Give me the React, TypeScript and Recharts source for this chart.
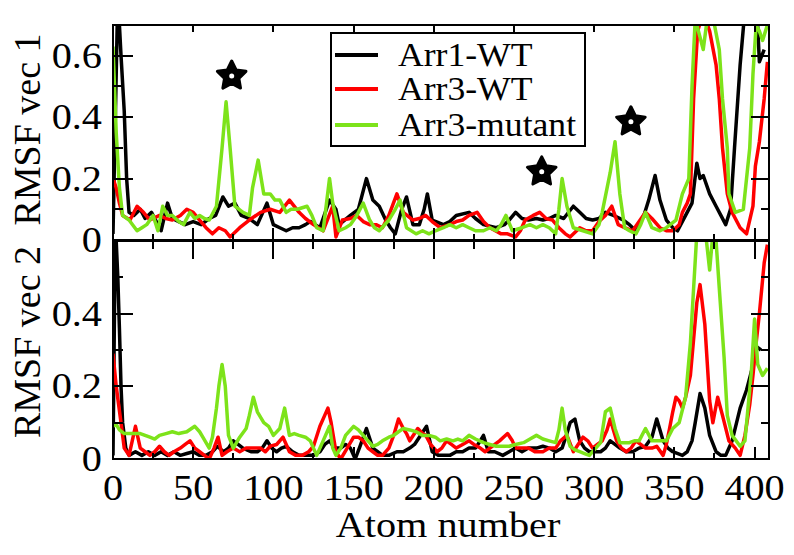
import { LineChart, Line, XAxis, YAxis, Legend, ReferenceDot, Label } from "recharts";

type Pt = [number, number];

// [atom, rmsf] pairs
const arr1Vec1: Pt[] = [
  [0, 0.02], [3, 0.8], [5, 0.6], [7, 0.42], [8.5, 0.2], [10, 0.09], [13, 0.08], [17, 0.1], [20, 0.07],
  [24, 0.09], [28, 0.05], [30, 0.03], [34, 0.12], [37, 0.07], [41, 0.06], [45, 0.05], [50, 0.06], [55, 0.05],
  [60, 0.07], [64, 0.08], [68.5, 0.14], [72, 0.11], [76, 0.12], [80, 0.08], [85, 0.07], [90, 0.05], [96, 0.12],
  [100, 0.05], [104, 0.04], [108, 0.03], [112, 0.04], [116, 0.04], [120, 0.05], [123, 0.06], [129, 0.04],
  [135, 0.13], [139, 0.1], [141, 0.05], [148, 0.08], [153, 0.1], [158, 0.2], [162, 0.13], [166, 0.11],
  [170, 0.065], [173, 0.04], [176, 0.02], [180, 0.1], [183, 0.14], [187, 0.05], [191, 0.05], [194, 0.1],
  [196, 0.15], [199, 0.065], [206, 0.05], [210, 0.06], [214, 0.08], [222, 0.09], [226, 0.07], [231, 0.05],
  [239, 0.04], [244, 0.05], [247, 0.065], [251, 0.09], [255, 0.07], [259, 0.065], [264, 0.07], [268, 0.065],
  [272, 0.07], [276, 0.08], [281, 0.07], [287, 0.11], [291, 0.09], [295, 0.07], [299, 0.065], [303, 0.07],
  [307, 0.09], [312, 0.08], [318, 0.065], [322, 0.05], [326, 0.03], [331, 0.08], [334, 0.13], [338, 0.21],
  [341, 0.13], [345, 0.065], [349, 0.04], [352, 0.03], [357, 0.08], [361, 0.12], [364, 0.25], [366, 0.2],
  [368, 0.21], [372, 0.15], [376, 0.11], [379, 0.08], [382, 0.05], [385, 0.1], [387.5, 0.3], [391, 0.57],
  [394, 0.75], [398, 0.9], [401, 0.8], [403, 0.58], [406, 0.62],
];

const arr3Vec1: Pt[] = [
  [0, 0.2], [2, 0.17], [4, 0.12], [6, 0.08], [10.6, 0.065], [15, 0.11], [19, 0.09], [23, 0.065], [29, 0.08],
  [33, 0.07], [37, 0.065], [42, 0.08], [46, 0.1], [50, 0.09], [54, 0.065], [58, 0.04], [62, 0.02], [66, 0.04],
  [70, 0.03], [73, 0.01], [79, 0.04], [85, 0.065], [92, 0.09], [98, 0.1], [104, 0.09], [110, 0.13], [116, 0.09],
  [120, 0.07], [125, 0.05], [131, 0.03], [137, 0.11], [139, 0.01], [143, 0.065], [148, 0.07], [152, 0.08],
  [156, 0.06], [160, 0.05], [164, 0.05], [168, 0.04], [172, 0.08], [177, 0.15], [181, 0.09], [187, 0.065],
  [191, 0.07], [195, 0.08], [199, 0.06], [204, 0.04], [210, 0.05], [214, 0.06], [218, 0.065], [222, 0.08],
  [227, 0.09], [231, 0.06], [235, 0.04], [242, 0.02], [246, 0.02], [251, 0.01], [254, 0.03], [257, 0.065],
  [262, 0.08], [266, 0.09], [270, 0.07], [274, 0.065], [278, 0.04], [282, 0.02], [285, 0.01], [291, 0.04],
  [295, 0.03], [299, 0.03], [303, 0.06], [307, 0.08], [311, 0.11], [315, 0.05], [319, 0.04], [324, 0.03],
  [328, 0.06], [332, 0.09], [336, 0.07], [341, 0.04], [345, 0.03], [349, 0.03], [353, 0.05], [355, 0.09],
  [358, 0.12], [360, 0.15], [362, 0.46], [364.5, 0.68], [368, 0.74], [372, 0.68], [376, 0.57], [378, 0.46],
  [380, 0.3], [383, 0.15], [386, 0.09], [391, 0.04], [395, 0.02], [399, 0.11], [400.5, 0.24], [403, 0.32],
  [406, 0.46], [408, 0.58],
];

const mutantVec1: Pt[] = [
  [0, 0.63], [2, 0.35], [4, 0.17], [6, 0.08], [10, 0.065], [15, 0.03], [18, 0.04], [21, 0.05], [25, 0.08],
  [28, 0.03], [31, 0.11], [34, 0.08], [37, 0.08], [41, 0.06], [44, 0.05], [48, 0.09], [51, 0.07], [54, 0.08],
  [57, 0.07], [60, 0.065], [64.5, 0.11], [68, 0.3], [70.5, 0.45], [73, 0.3], [76, 0.11], [81, 0.09], [85, 0.08],
  [87, 0.17], [90.5, 0.26], [94, 0.15], [98, 0.15], [101, 0.13], [104, 0.13], [108, 0.09], [111, 0.1],
  [115, 0.1], [121, 0.11], [124, 0.08], [127, 0.04], [131, 0.03], [135, 0.2], [137, 0.12], [141, 0.03],
  [145, 0.04], [148, 0.05], [152, 0.08], [156, 0.12], [160, 0.065], [163, 0.04], [166, 0.03], [172, 0.065],
  [176, 0.1], [179, 0.13], [183, 0.04], [189, 0.02], [193, 0.03], [197, 0.02], [201, 0.03], [206, 0.04],
  [210, 0.05], [214, 0.04], [218, 0.05], [222, 0.04], [226, 0.03], [231, 0.03], [235, 0.04], [239, 0.03],
  [242, 0.05], [245, 0.08], [249, 0.03], [255, 0.04], [260, 0.05], [264, 0.04], [268, 0.05], [272, 0.04],
  [276, 0.02], [278, 0.1], [280, 0.2], [283, 0.11], [287, 0.04], [293, 0.03], [299, 0.02], [303, 0.05],
  [305, 0.09], [310, 0.22], [313, 0.32], [316, 0.15], [319, 0.04], [322, 0.03], [326, 0.02], [329, 0.05],
  [332, 0.09], [336, 0.04], [341, 0.03], [345, 0.04], [351, 0.065], [355, 0.15], [359, 0.2], [361, 0.5],
  [363, 0.72], [366, 0.66], [368, 0.62], [370, 0.7], [372, 0.72], [375, 0.7], [378, 0.62], [380, 0.46],
  [383, 0.3], [384, 0.15], [388, 0.09], [393, 0.1], [397, 0.3], [399, 0.54], [401, 0.7], [403, 0.68],
  [405, 0.65], [408, 0.7],
];

const arr1Vec2: Pt[] = [
  [0, 0.01], [1.5, 0.65], [3, 0.5], [4, 0.36], [5, 0.2], [6, 0.1], [8, 0.03], [10, 0.01], [14, 0.02],
  [18, 0.01], [22, 0.02], [26, 0.01], [30, 0.02], [34, 0.01], [38, 0.02], [42, 0.01], [46, 0.015], [50, 0.02],
  [54, 0.01], [58, 0.01], [62, 0.02], [65, 0.035], [69, 0.02], [72, 0.03], [75, 0.05], [78, 0.04], [81, 0.03],
  [86, 0.02], [90, 0.02], [93, 0.03], [96, 0.05], [99, 0.03], [102, 0.02], [105, 0.03], [108, 0.035],
  [112, 0.02], [116, 0.01], [120, 0.01], [125, 0.01], [129, 0.02], [132, 0.04], [135, 0.05], [138, 0.03],
  [142, 0.03], [145, 0.04], [148, 0.03], [151, 0], [154, 0.035], [158, 0.084], [162, 0.03], [165, 0.02],
  [168, 0.01], [172, 0.01], [177, 0.02], [181, 0.02], [185, 0.03], [188, 0.04], [191, 0.06], [195.5, 0.09],
  [199, 0.02], [203, 0.01], [206, 0.01], [210, 0.01], [214, 0.02], [218, 0.02], [222, 0.03], [226, 0.03],
  [229, 0.05], [231, 0.065], [234, 0.02], [238, 0.02], [243, 0.01], [247, 0.02], [251, 0.03], [255, 0.02],
  [259, 0.03], [264, 0.03], [268, 0.035], [272, 0.03], [276, 0.02], [280, 0.03], [283, 0.07], [285, 0.1],
  [288, 0.11], [291, 0.05], [294, 0.03], [297, 0.02], [304, 0.02], [307, 0.03], [310, 0.05], [313, 0.04],
  [316, 0.03], [320, 0.02], [324, 0.02], [328, 0.03], [332, 0.035], [336, 0.06], [339, 0.11], [343, 0.05],
  [346, 0.03], [349, 0.02], [355, 0.01], [358, 0.02], [361, 0.05], [363, 0.1], [366, 0.18], [369, 0.14],
  [372, 0.065], [376, 0.02], [379, 0.01], [382, 0.01], [386, 0.05], [391, 0.14], [395, 0.19], [398, 0.24],
  [401, 0.31], [404, 0.3],
];

const arr3Vec2: Pt[] = [
  [0, 0.29], [2, 0.2], [5, 0.1], [7, 0.03], [10, 0.01], [12, 0.05], [14, 0.09], [17, 0.03], [20, 0.02],
  [23, 0.01], [26, 0.02], [29, 0.035], [32, 0.02], [35, 0.01], [38, 0.02], [42, 0.03], [45, 0.04], [48, 0.05],
  [51, 0.03], [54, 0.02], [57, 0.01], [60, 0], [63, 0.03], [65.5, 0.06], [68, 0.01], [71, 0.02], [75, 0.03],
  [79, 0.02], [83, 0.03], [88, 0.03], [92, 0.03], [95, 0.02], [98, 0.035], [102, 0.04], [106, 0.06],
  [110, 0.02], [114, 0.01], [118, 0.01], [122, 0.02], [125, 0.035], [129, 0.09], [132, 0.12], [134, 0.14],
  [136, 0.1], [139, 0.02], [142, 0], [146, 0.03], [150, 0.06], [153, 0.06], [156, 0.05], [159, 0.03],
  [162, 0.02], [165, 0.01], [168, 0.01], [172, 0.03], [175, 0.065], [178, 0.11], [181, 0.084], [183, 0.07],
  [185, 0.05], [188, 0.07], [190, 0.084], [193, 0.07], [195, 0.065], [198, 0.04], [202, 0.02], [205, 0.03],
  [208, 0.05], [211, 0.04], [214, 0.03], [218, 0.04], [222, 0.05], [225, 0.04], [229, 0.03], [232, 0.02],
  [235, 0.03], [238, 0.04], [241, 0.05], [246, 0.07], [249, 0.05], [251, 0.03], [255, 0.03], [259, 0.03],
  [263, 0.02], [268, 0.02], [272, 0.03], [276, 0.03], [279, 0.05], [283, 0.065], [287, 0.02], [290, 0.04],
  [293, 0.06], [296, 0.05], [299, 0.03], [302, 0.04], [305, 0.05], [308, 0.08], [310, 0.11], [312, 0.08],
  [314, 0.05], [317, 0.03], [320, 0.02], [323, 0.03], [326, 0.05], [329, 0.04], [332, 0.03], [336, 0.03],
  [339, 0.035], [343, 0.01], [345, 0.04], [347, 0.084], [349, 0.13], [351, 0.17], [353, 0.16], [355, 0.14],
  [357, 0.17], [360, 0.23], [362, 0.33], [364, 0.43], [366, 0.48], [369, 0.37], [372, 0.16], [374, 0.1],
  [377, 0.17], [380, 0.12], [384, 0.05], [388, 0.03], [391, 0.01], [394, 0.065], [397, 0.15], [399, 0.23],
  [401, 0.32], [403, 0.4], [406, 0.54], [408, 0.59],
];

const mutantVec2: Pt[] = [
  [0, 0.09], [2, 0.095], [4, 0.08], [7, 0.07], [10, 0.07], [13, 0.07], [17, 0.07], [20, 0.065], [23, 0.06],
  [26, 0.055], [29, 0.065], [33, 0.07], [37, 0.075], [41, 0.07], [46, 0.075], [51, 0.09], [54, 0.075],
  [56, 0.06], [60, 0.03], [62, 0.06], [64.5, 0.14], [66, 0.2], [68, 0.26], [70, 0.2], [72, 0.065], [75, 0.03],
  [79, 0.06], [83, 0.084], [85, 0.12], [87.5, 0.17], [90, 0.13], [94, 0.1], [97, 0.09], [100, 0.065],
  [104, 0.084], [107, 0.14], [110, 0.065], [113, 0.07], [116, 0.065], [120, 0.06], [123, 0.05], [127, 0.01],
  [131, 0.05], [135, 0.09], [137, 0.03], [139, 0.01], [142, 0.03], [145, 0.065], [150, 0.09], [153, 0.08],
  [156, 0.065], [159, 0.05], [162, 0.035], [165, 0.04], [168, 0.05], [172, 0.06], [175, 0.065], [178, 0.075],
  [181, 0.084], [185, 0.08], [189, 0.075], [193, 0.065], [197, 0.065], [201, 0.06], [204, 0.05], [208, 0.055],
  [212, 0.05], [215, 0.055], [218, 0.05], [222, 0.065], [226, 0.055], [231, 0.045], [235, 0.04], [239, 0.035],
  [243, 0.035], [247, 0.035], [251, 0.04], [256, 0.045], [260, 0.055], [264, 0.065], [268, 0.055], [272, 0.05],
  [276, 0.045], [278, 0.08], [280, 0.14], [282, 0.08], [285, 0.035], [288, 0.025], [291, 0.02], [294, 0.015],
  [297, 0.01], [301, 0.03], [304, 0.045], [307, 0.13], [310, 0.14], [313, 0.084], [316, 0.045], [319, 0.045],
  [322, 0.045], [325, 0.05], [328, 0.05], [332, 0.084], [336, 0.05], [340, 0.05], [345, 0.05], [349, 0.084],
  [353, 0.1], [357, 0.17], [360, 0.32], [362, 0.47], [364, 0.62], [367, 0.62], [370, 0.6], [372, 0.52],
  [374, 0.62], [376, 0.6], [378, 0.47], [381, 0.28], [383, 0.12], [386, 0.065], [391, 0.035], [394, 0.05],
  [398, 0.24], [400, 0.385], [402, 0.26], [405, 0.23], [408, 0.25],
];

const seriesNames = ["Arr1-WT", "Arr3-WT", "Arr3-mutant"];
const atomTicks = [0, 25, 50, 75, 100, 125, 150, 175, 200, 225, 250, 275, 300, 325, 350, 375, 400];
const atomLabels = [0, 50, 100, 150, 200, 250, 300, 350, 400];
const vec1Ticks = [0, 0.1, 0.2, 0.3, 0.4, 0.5, 0.6, 0.7];
const vec1Labels = [0, 0.2, 0.4, 0.6];
const vec2Ticks = [0, 0.1, 0.2, 0.3, 0.4, 0.5, 0.6];
const vec2Labels = [0, 0.2, 0.4];
// stars marking mutated sites (atom, rmsf)
const starAtoms = [74, 267.3, 322.9];
const starRmsf = [0.534, 0.222, 0.385];

const ATOM_MAX = 409;
const VEC1_MAX = 0.7;
const VEC2_MAX = 0.6;
const colors = ["#000000", "#ff0000", "#7de31a"];
const FONT = "'Liberation Serif', 'Times New Roman', Times, serif";

// plot boxes (page px) shared by the charts and the frame overlay
const LEFT = 113;
const RIGHT = 769;
const TOP1 = 25;
const BOT1 = 240;
const TOP2 = 241;
const BOT2 = 459;

const rows = (pts: Pt[]) => pts.map(([atom, rmsf]) => ({ atom, rmsf }));
const isMajorAtom = (v: number) => v % 50 === 0;
const isMajorRmsf = (v: number) => Math.round(v * 10) % 2 === 0;

const xLabel = (labels: number[]) => (p: any) => {
  const v = p.payload.value;
  if (!labels.includes(v)) return <g />;
  return (
    <text transform={`translate(${p.x},${Number(p.y) + 41}) scale(1.15,1)`} textAnchor="middle" fontSize={35} fontFamily={FONT} fill="#000">
      {v}
    </text>
  );
};

const yLabel = (labels: number[]) => (p: any) => {
  const v = p.payload.value;
  if (!labels.some((l) => Math.abs(l - v) < 1e-6)) return <g />;
  return (
    <text transform={`translate(${Number(p.x) - 11},${Number(p.y) + 12}) scale(1.15,1)`} textAnchor="end" fontSize={35} fontFamily={FONT} fill="#000">
      {v === 0 ? "0" : v.toFixed(1)}
    </text>
  );
};

const yTitle = (text: string, shift: number) => (props: any) => {
  const vb = props.viewBox;
  const cy = vb.y + vb.height / 2 + shift;
  return (
    <text transform={`translate(40,${cy}) rotate(-90)`} textAnchor="middle" fontSize={38} fontFamily={FONT} fill="#000">
      {text}
    </text>
  );
};

const xTitle = (props: any) => {
  const vb = props.viewBox;
  return (
    <text transform={`translate(${vb.x + vb.width / 2 + 7},${vb.y + 78}) scale(1.15,1)`} textAnchor="middle" fontSize={35} fontFamily={FONT} fill="#000">
      Atom number
    </text>
  );
};

const StarShape = (props: any) => {
  const { cx, cy } = props;
  const pts: string[] = [];
  for (let i = 0; i < 10; i++) {
    const r = i % 2 === 0 ? 15 : 7.5;
    const a = -Math.PI / 2 + (i * Math.PI) / 5;
    pts.push(`${cx + r * Math.cos(a)},${cy + r * Math.sin(a)}`);
  }
  return (
    <g>
      <polygon points={pts.join(" ")} fill="#000" stroke="#000" strokeWidth={3} strokeLinejoin="round" />
      <circle cx={cx} cy={cy} r={2.5} fill="#fff" />
    </g>
  );
};

const LegendBox = (props: any) => {
  const items = props.payload || [];
  return (
    <svg width={256} height={115} style={{ display: "block" }}>
      <rect x={1} y={1} width={254} height={113} fill="#fff" stroke="#000" strokeWidth={2} />
      {items.map((it: any, i: number) => {
        const ry = [23, 57, 93][i];
        return (
          <g key={it.value}>
            <line x1={5} x2={48} y1={ry} y2={ry} stroke={it.color} strokeWidth={4} />
            <text transform={`translate(68,${ry + 11}) scale(1.08,1)`} fontSize={33} fontFamily={FONT} fill="#000">
              {it.value}
            </text>
          </g>
        );
      })}
    </svg>
  );
};

// a solid black bar as an HTML box (used for frame edges and tick marks)
const bar = (key: string, left: number, top: number, width: number, height: number) => (
  <div key={key} style={{ position: "absolute", left, top, width, height, background: "#000" }} />
);

// frame + inward tick marks of one panel (grace style), same linear mapping as the chart axes
function PanelFrame(props: { top: number; bottom: number; yMax: number; yTicks: number[]; topMajor: number; topMinor: number }) {
  const { top, bottom, yMax, yTicks, topMajor, topMinor } = props;
  const sx = (v: number) => LEFT + (v / ATOM_MAX) * (RIGHT - LEFT);
  const sy = (v: number) => bottom - (v / yMax) * (bottom - top);
  const parts = [
    bar("t", LEFT - 1, top - 1, RIGHT - LEFT + 2, 2),
    bar("b", LEFT - 1, bottom - 1, RIGHT - LEFT + 2, 2),
    bar("l", LEFT - 1, top - 1, 2, bottom - top + 2),
    bar("r", RIGHT - 1, top - 1, 2, bottom - top + 2),
  ];
  atomTicks.forEach((v) => {
    const x = sx(v) - 1;
    const up = isMajorAtom(v) ? 12 : 6;
    const down = isMajorAtom(v) ? topMajor : topMinor;
    parts.push(bar(`xb${v}`, x, bottom - up, 2, up));
    if (down > 0) parts.push(bar(`xt${v}`, x, top, 2, down));
  });
  yTicks.forEach((v) => {
    const y = sy(v) - 1;
    const major = isMajorRmsf(v);
    const l = major ? 20 : 10;
    const r = major ? 18 : 8;
    parts.push(bar(`yl${v}`, LEFT, y, l, 2));
    parts.push(bar(`yr${v}`, RIGHT - r, y, r, 2));
  });
  return <>{parts}</>;
}

const seriesLines = (vec: Pt[][]) =>
  vec.map((s, i) => (
    <Line key={seriesNames[i]} name={seriesNames[i]} data={rows(s)} dataKey="rmsf" type="linear"
      stroke={colors[i]} strokeWidth={3.5} strokeLinejoin="round" dot={false} isAnimationActive={false} />
  ));

export default function App() {
  return (
    <div style={{ position: "relative", width: 794, height: 555, margin: -8, background: "#fff" }}>
      <div style={{ position: "absolute", left: 0, top: TOP2 }}>
        <LineChart width={794} height={555 - TOP2} margin={{ top: 0, right: 794 - RIGHT, bottom: 0, left: LEFT - 60 }}>
          <XAxis type="number" dataKey="atom" domain={[0, ATOM_MAX]} allowDataOverflow ticks={atomTicks} interval={0}
            height={555 - BOT2} tickSize={0} tickMargin={0} tickLine={false} axisLine={false} tick={xLabel(atomLabels)}>
            <Label content={xTitle} />
          </XAxis>
          <YAxis type="number" domain={[0, VEC2_MAX]} allowDataOverflow ticks={vec2Ticks} interval={0} width={60}
            tickSize={0} tickMargin={0} tickLine={false} axisLine={false} tick={yLabel(vec2Labels)}>
            <Label content={yTitle("RMSF vec 2", -8)} />
          </YAxis>
          {seriesLines([arr1Vec2, arr3Vec2, mutantVec2])}
        </LineChart>
      </div>
      <div style={{ position: "absolute", left: 0, top: 0 }}>
        <LineChart width={794} height={262} margin={{ top: TOP1, right: 794 - RIGHT, bottom: 262 - BOT1, left: LEFT - 60 }}>
          <XAxis type="number" dataKey="atom" domain={[0, ATOM_MAX]} allowDataOverflow ticks={atomTicks} hide />
          <YAxis type="number" domain={[0, VEC1_MAX]} allowDataOverflow ticks={vec1Ticks} interval={0} width={60}
            tickSize={0} tickMargin={0} tickLine={false} axisLine={false} tick={yLabel(vec1Labels)}>
            <Label content={yTitle("RMSF vec 1", -3)} />
          </YAxis>
          {seriesLines([arr1Vec1, arr3Vec1, mutantVec1])}
          {starAtoms.map((a, i) => (
            <ReferenceDot key={a} x={a} y={starRmsf[i]} r={15} shape={StarShape} />
          ))}
          <Legend layout="vertical" align="center" verticalAlign="middle" content={LegendBox}
            wrapperStyle={{ left: 330, top: 32, width: 256, height: 115 }} />
        </LineChart>
      </div>
      <div style={{ position: "absolute", left: 0, top: 0, width: 794, height: 555, pointerEvents: "none", zIndex: 5 }}>
        <PanelFrame top={TOP1} bottom={BOT1} yMax={VEC1_MAX} yTicks={vec1Ticks} topMajor={7} topMinor={0} />
        <PanelFrame top={TOP2} bottom={BOT2} yMax={VEC2_MAX} yTicks={vec2Ticks} topMajor={18} topMinor={8} />
      </div>
    </div>
  );
}
